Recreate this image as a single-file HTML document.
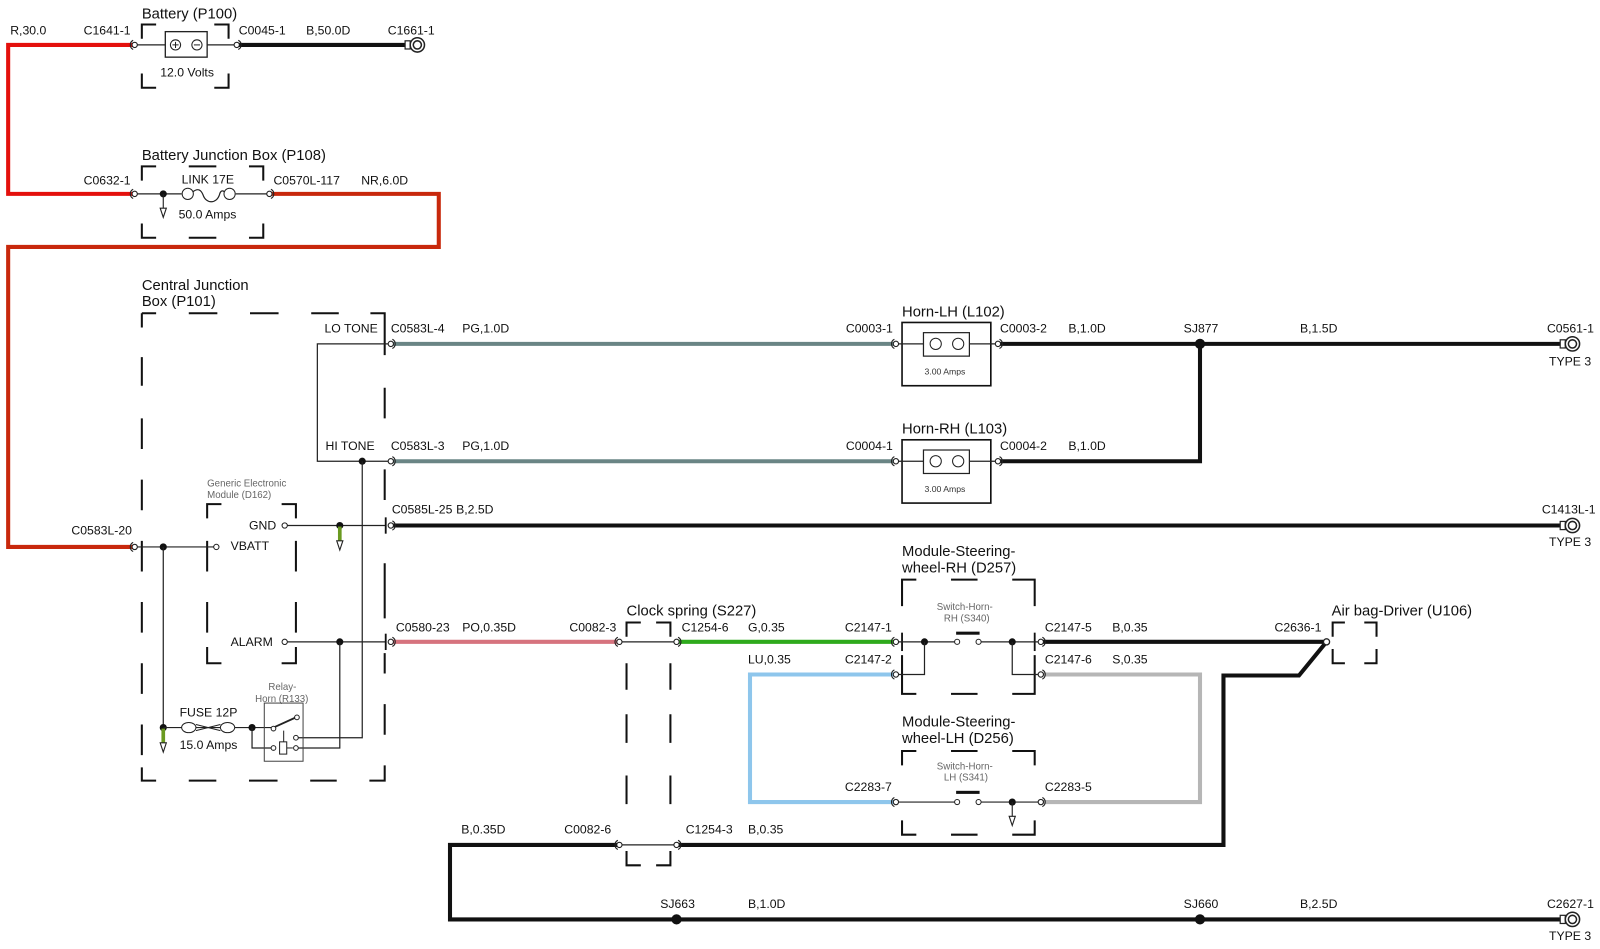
<!DOCTYPE html>
<html><head><meta charset="utf-8">
<style>
html,body{margin:0;padding:0;background:#fff;}
svg{display:block;}
text{font-family:"Liberation Sans",sans-serif;fill:#111;}
.s{font-size:12px;}
.t{font-size:14.5px;}
.g{font-size:9.5px;fill:#666;}
.d{fill:none;stroke:#111;stroke-width:2;}
.th{fill:none;stroke:#222;stroke-width:1.2;}
</style></head><body>
<svg width="1600" height="949" viewBox="0 0 1568 930" xmlns="http://www.w3.org/2000/svg">
<defs>
<g id="cl"><circle cx="0" cy="0" r="2.6" fill="#fff" stroke="#222" stroke-width="1.1"/><path d="M-1.5,-4.5 A5,5 0 0 0 -1.5,4.5" fill="none" stroke="#222" stroke-width="1.1"/></g>
<g id="cr"><circle cx="0" cy="0" r="2.6" fill="#fff" stroke="#222" stroke-width="1.1"/><path d="M1.5,-4.5 A5,5 0 0 1 1.5,4.5" fill="none" stroke="#222" stroke-width="1.1"/></g>
<g id="term"><rect x="-8" y="-4" width="5" height="8" fill="#fff" stroke="#222" stroke-width="1.2"/><circle cx="4" cy="0" r="7" fill="#fff" stroke="#222" stroke-width="1.5"/><circle cx="4" cy="0" r="4" fill="none" stroke="#222" stroke-width="1.5"/></g>
<g id="gnd"><path d="M0,0 V14 M-3,14 L0,23 L3,14 Z" fill="#fff" stroke="#222" stroke-width="1.1"/></g>
<g id="ggnd"><rect x="-1.8" y="0" width="3.6" height="14" fill="#6a9a20"/><path d="M-3,14 L0,23 L3,14 Z" fill="#fff" stroke="#222" stroke-width="1.1"/></g>
</defs>

<!-- wires -->
<polyline points="132,44 8,44 8,190 132,190" fill="none" stroke="#e4100c" stroke-width="4"/>
<polyline points="264,190 430,190 430,242 8,242 8,536 132,536" fill="none" stroke="#c8280c" stroke-width="4"/>
<line x1="232" y1="44" x2="397" y2="44" stroke="#111" stroke-width="4"/>
<line x1="383" y1="337" x2="878" y2="337" stroke="#6a8585" stroke-width="4"/>
<line x1="383" y1="452" x2="878" y2="452" stroke="#6a8585" stroke-width="4"/>
<line x1="978" y1="337" x2="1530" y2="337" stroke="#111" stroke-width="4"/>
<polyline points="978,452 1176,452 1176,337" fill="none" stroke="#111" stroke-width="4"/>
<line x1="383" y1="515" x2="1530" y2="515" stroke="#111" stroke-width="4"/>
<line x1="383" y1="629" x2="607" y2="629" stroke="#d6737e" stroke-width="4"/>
<line x1="663" y1="629" x2="878" y2="629" stroke="#2eaa1c" stroke-width="4"/>
<line x1="1020" y1="629" x2="1300" y2="629" stroke="#111" stroke-width="4"/>
<polyline points="878,661 735,661 735,786 878,786" fill="none" stroke="#8ec6ec" stroke-width="4"/>
<polyline points="1020,661 1176,661 1176,786 1020,786" fill="none" stroke="#b6b6b6" stroke-width="4"/>
<polyline points="1300,629 1273,662 1199,662 1199,828 663,828" fill="none" stroke="#111" stroke-width="4"/>
<polyline points="607,828 441,828 441,901 1530,901" fill="none" stroke="#111" stroke-width="4"/>

<!-- Battery -->
<text class="t" x="139" y="18">Battery (P100)</text>
<text class="s" x="10" y="34">R,30.0</text>
<text class="s" x="82" y="34">C1641-1</text>
<text class="s" x="234" y="34">C0045-1</text>
<text class="s" x="300" y="34">B,50.0D</text>
<text class="s" x="380" y="34">C1661-1</text>
<text class="s" x="157" y="75">12.0 Volts</text>
<path class="d" d="M139,38 V24 H153 M210,24 H224 V38 M139,72 V86 H153 M210,86 H224 V72"/>
<line x1="132" y1="44" x2="232" y2="44" class="th"/>
<rect x="162" y="31" width="41" height="25" fill="#fff" stroke="#222" stroke-width="1.3"/>
<circle cx="172" cy="44" r="5" fill="#fff" stroke="#222"/><path d="M169,44 h6 M172,41 v6" stroke="#222"/>
<circle cx="193" cy="44" r="5" fill="#fff" stroke="#222"/><path d="M190,44 h6" stroke="#222"/>
<use href="#cl" x="132" y="44"/><use href="#cr" x="232" y="44"/>
<use href="#term" x="405" y="44"/>

<!-- BJB -->
<text class="t" x="139" y="157">Battery Junction Box (P108)</text>
<text class="s" x="82" y="181">C0632-1</text>
<text class="s" x="178" y="180">LINK 17E</text>
<text class="s" x="175" y="214">50.0 Amps</text>
<text class="s" x="268" y="181">C0570L-117</text>
<text class="s" x="354" y="181">NR,6.0D</text>
<path class="d" d="M139,177 V163 H153 M185,163 H212 M244,163 H258 V177 M139,219 V233 H153 M185,233 H212 M244,233 H258 V219"/>
<line x1="132" y1="190" x2="178" y2="190" class="th"/>
<line x1="231" y1="190" x2="264" y2="190" class="th"/>
<circle cx="160" cy="190" r="3.5" fill="#111"/><use href="#gnd" x="160" y="190"/>
<circle cx="184" cy="190" r="5.5" fill="#fff" stroke="#222"/><circle cx="225" cy="190" r="5.5" fill="#fff" stroke="#222"/>
<path d="M189,188 C194,184 197,186 199,191 C202,200 212,200 215,191 C216,187 218,186 220,188" fill="none" stroke="#222" stroke-width="1.2"/>
<use href="#cl" x="132" y="190"/><use href="#cr" x="264" y="190"/>

<!-- CJB -->
<text class="t" x="139" y="284">Central Junction</text>
<text class="t" x="139" y="300">Box (P101)</text>
<path class="d" d="M139,307 V321 M139,350 V378 M139,410 V440 M139,470 V500 M139,530 V560 M139,590 V620 M139,650 V680 M139,710 V740 M139,752 V765 H153 M185,765 H212 M244,765 H272 M304,765 H330 M362,765 H377 V750 M377,720 V690 M377,660 V640 M377,606 V552 M377,490 V460 M377,410 V380 M377,348 V307 H363 M332,307 H305 M273,307 H245 M213,307 H185 M153,307 H139"/>
<text class="s" x="318" y="326">LO TONE</text>
<text class="s" x="319" y="441">HI TONE</text>
<polyline points="383,337 311,337 311,452 383,452" class="th"/>
<circle cx="355" cy="452" r="3.5" fill="#111"/>
<polyline points="355,452 355,723 290,723" class="th"/>
<text class="s" x="383" y="326">C0583L-4</text><text class="s" x="453" y="326">PG,1.0D</text>
<text class="s" x="383" y="441">C0583L-3</text><text class="s" x="453" y="441">PG,1.0D</text>
<use href="#cr" x="383" y="337"/><use href="#cr" x="383" y="452"/>

<!-- GEM -->
<text class="g" x="203" y="477">Generic Electronic</text>
<text class="g" x="203" y="488">Module (D162)</text>
<path class="d" d="M203,508 V494 H217 M276,494 H290 V508 M203,530 V560 M290,530 V560 M203,590 V620 M290,590 V620 M203,634 V650 H217 M276,650 H290 V634"/>
<text class="s" x="244" y="519">GND</text>
<text class="s" x="226" y="539">VBATT</text>
<text class="s" x="226" y="633">ALARM</text>
<line x1="281" y1="515" x2="378" y2="515" class="th"/>
<circle cx="279" cy="515" r="2.6" fill="#fff" stroke="#222"/>
<circle cx="333" cy="515" r="3.5" fill="#111"/><use href="#ggnd" x="333" y="516"/>
<line x1="378" y1="507" x2="378" y2="523" stroke="#111" stroke-width="1.8"/>
<use href="#cr" x="383" y="515"/>
<text class="s" x="384" y="503">C0585L-25</text><text class="s" x="447" y="503">B,2.5D</text>
<line x1="132" y1="536" x2="210" y2="536" class="th"/>
<circle cx="212" cy="536" r="2.6" fill="#fff" stroke="#222"/>
<circle cx="160" cy="536" r="3.5" fill="#111"/>
<line x1="160" y1="536" x2="160" y2="713" class="th"/>
<circle cx="160" cy="713" r="3.5" fill="#111"/><use href="#ggnd" x="160" y="714"/>
<text class="s" x="70" y="524">C0583L-20</text>
<use href="#cl" x="132" y="536"/>
<line x1="281" y1="629" x2="378" y2="629" class="th"/>
<circle cx="279" cy="629" r="2.6" fill="#fff" stroke="#222"/>
<circle cx="333" cy="629" r="3.5" fill="#111"/>
<polyline points="333,629 333,733 290,733" class="th"/>
<line x1="378" y1="621" x2="378" y2="637" stroke="#111" stroke-width="1.8"/>
<use href="#cr" x="383" y="629"/>
<text class="s" x="388" y="619">C0580-23</text><text class="s" x="453" y="619">PO,0.35D</text>
<text class="s" x="558" y="619">C0082-3</text>

<!-- Fuse & relay -->
<text class="s" x="176" y="702">FUSE 12P</text>
<text class="s" x="176" y="734">15.0 Amps</text>
<line x1="160" y1="713" x2="268" y2="713" class="th"/>
<ellipse cx="185" cy="713" rx="7" ry="5" fill="#fff" stroke="#222"/><ellipse cx="223" cy="713" rx="7" ry="5" fill="#fff" stroke="#222"/>
<path d="M192,710 L216,716 M192,716 L216,710" stroke="#222"/>
<circle cx="247" cy="713" r="3.5" fill="#111"/>
<polyline points="247,713 247,733 266,733" class="th"/>
<text class="g" x="263" y="676">Relay-</text>
<text class="g" x="250" y="688">Horn (R133)</text>
<rect x="259" y="689" width="38" height="57" fill="none" stroke="#444" stroke-width="1"/>
<line x1="268" y1="713" x2="290" y2="703" stroke="#222" stroke-width="1.8"/>
<circle cx="268" cy="714" r="2.3" fill="#fff" stroke="#222"/><circle cx="291" cy="703" r="2.3" fill="#fff" stroke="#222"/>
<circle cx="268" cy="733" r="2.3" fill="#fff" stroke="#222"/>
<rect x="274" y="727" width="7" height="12" fill="#fff" stroke="#222"/><line x1="278" y1="716" x2="278" y2="727" stroke="#222"/>
<line x1="281" y1="733" x2="287" y2="733" stroke="#222"/>
<circle cx="290" cy="723" r="2.3" fill="#fff" stroke="#222"/><circle cx="290" cy="733" r="2.3" fill="#fff" stroke="#222"/>

<!-- Horns -->
<text class="t" x="884" y="310">Horn-LH (L102)</text>
<text class="t" x="884" y="425">Horn-RH (L103)</text>
<g>
<rect x="884" y="316" width="87" height="62" fill="#fff" stroke="#111" stroke-width="1.6"/>
<line x1="878" y1="337" x2="978" y2="337" class="th"/>
<rect x="905" y="326" width="45" height="23" fill="#fff" stroke="#222" stroke-width="1.2"/>
<circle cx="917" cy="337" r="5.5" fill="#fff" stroke="#222"/><circle cx="939" cy="337" r="5.5" fill="#fff" stroke="#222"/>
<text x="906" y="367" style="font-size:8.5px;fill:#333">3.00 Amps</text>
</g>
<g transform="translate(0,115)">
<rect x="884" y="316" width="87" height="62" fill="#fff" stroke="#111" stroke-width="1.6"/>
<line x1="878" y1="337" x2="978" y2="337" class="th"/>
<rect x="905" y="326" width="45" height="23" fill="#fff" stroke="#222" stroke-width="1.2"/>
<circle cx="917" cy="337" r="5.5" fill="#fff" stroke="#222"/><circle cx="939" cy="337" r="5.5" fill="#fff" stroke="#222"/>
<text x="906" y="367" style="font-size:8.5px;fill:#333">3.00 Amps</text>
</g>
<use href="#cl" x="878" y="337"/><use href="#cr" x="978" y="337"/>
<use href="#cl" x="878" y="452"/><use href="#cr" x="978" y="452"/>
<text class="s" x="829" y="326">C0003-1</text><text class="s" x="980" y="326">C0003-2</text><text class="s" x="1047" y="326">B,1.0D</text>
<text class="s" x="829" y="441">C0004-1</text><text class="s" x="980" y="441">C0004-2</text><text class="s" x="1047" y="441">B,1.0D</text>
<circle cx="1176" cy="337" r="5" fill="#111"/>
<text class="s" x="1160" y="326">SJ877</text><text class="s" x="1274" y="326">B,1.5D</text>
<text class="s" x="1516" y="326">C0561-1</text><text class="s" x="1518" y="358">TYPE 3</text>
<use href="#term" x="1537" y="337"/>
<text class="s" x="1511" y="503">C1413L-1</text><text class="s" x="1518" y="535">TYPE 3</text>
<use href="#term" x="1537" y="515"/>

<!-- Clock spring -->
<text class="t" x="614" y="603">Clock spring (S227)</text>
<path class="d" d="M614,624 V610 H628 M643,610 H657 V624 M614,650 V676 M657,650 V676 M614,700 V728 M657,700 V728 M614,760 V788 M657,760 V788 M614,834 V848 H628 M643,848 H657 V834"/>
<line x1="607" y1="629" x2="663" y2="629" class="th"/>
<line x1="607" y1="828" x2="663" y2="828" class="th"/>
<use href="#cl" x="607" y="629"/><use href="#cr" x="663" y="629"/>
<use href="#cl" x="607" y="828"/><use href="#cr" x="663" y="828"/>
<text class="s" x="668" y="619">C1254-6</text><text class="s" x="733" y="619">G,0.35</text>
<text class="s" x="828" y="619">C2147-1</text>
<text class="s" x="733" y="650">LU,0.35</text><text class="s" x="828" y="650">C2147-2</text>
<text class="s" x="828" y="775">C2283-7</text>
<text class="s" x="452" y="817">B,0.35D</text><text class="s" x="553" y="817">C0082-6</text>
<text class="s" x="672" y="817">C1254-3</text><text class="s" x="733" y="817">B,0.35</text>

<!-- D257 -->
<text class="t" x="884" y="545">Module-Steering-</text>
<text class="t" x="884" y="561">wheel-RH (D257)</text>
<path class="d" d="M884,594 V568 H898 M932,568 H958 M992,568 H1014 V594 M884,642 V680 H898 M932,680 H958 M992,680 H1014 V642"/>
<line x1="884" y1="620" x2="884" y2="638" stroke="#111" stroke-width="1.8"/>
<line x1="1014" y1="620" x2="1014" y2="638" stroke="#111" stroke-width="1.8"/>
<text class="g" x="918" y="598">Switch-Horn-</text><text class="g" x="925" y="609">RH (S340)</text>
<line x1="878" y1="629" x2="936" y2="629" class="th"/><line x1="961" y1="629" x2="1020" y2="629" class="th"/>
<circle cx="938" cy="629" r="2.5" fill="#fff" stroke="#222"/><circle cx="959" cy="629" r="2.5" fill="#fff" stroke="#222"/>
<rect x="937" y="619" width="23" height="3" fill="#111"/>
<circle cx="906" cy="629" r="3.5" fill="#111"/><circle cx="992" cy="629" r="3.5" fill="#111"/>
<polyline points="878,661 906,661 906,629" class="th"/>
<polyline points="992,629 992,661 1020,661" class="th"/>
<use href="#cl" x="878" y="629"/><use href="#cr" x="1020" y="629"/>
<use href="#cl" x="878" y="661"/><use href="#cr" x="1020" y="661"/>
<text class="s" x="1024" y="619">C2147-5</text><text class="s" x="1090" y="619">B,0.35</text>
<text class="s" x="1024" y="650">C2147-6</text><text class="s" x="1090" y="650">S,0.35</text>

<!-- D256 -->
<text class="t" x="884" y="712">Module-Steering-</text>
<text class="t" x="884" y="728">wheel-LH (D256)</text>
<path class="d" d="M884,750 V736 H898 M932,736 H958 M992,736 H1014 V750 M884,804 V818 H898 M932,818 H958 M992,818 H1014 V804"/>
<text class="g" x="918" y="754">Switch-Horn-</text><text class="g" x="925" y="765">LH (S341)</text>
<line x1="878" y1="786" x2="936" y2="786" class="th"/><line x1="961" y1="786" x2="1020" y2="786" class="th"/>
<circle cx="938" cy="786" r="2.5" fill="#fff" stroke="#222"/><circle cx="959" cy="786" r="2.5" fill="#fff" stroke="#222"/>
<rect x="937" y="775" width="23" height="3" fill="#111"/>
<circle cx="992" cy="786" r="3.5" fill="#111"/><use href="#gnd" x="992" y="786"/>
<use href="#cl" x="878" y="786"/><use href="#cr" x="1020" y="786"/>
<text class="s" x="1024" y="775">C2283-5</text>

<!-- Airbag -->
<text class="t" x="1305" y="603">Air bag-Driver (U106)</text>
<path class="d" d="M1306,624 V610 H1318 M1337,610 H1349 V624 M1306,636 V650 H1318 M1337,650 H1349 V636"/>
<circle cx="1300" cy="629" r="3" fill="#fff" stroke="#222" stroke-width="1.3"/>
<text class="s" x="1249" y="619">C2636-1</text>

<!-- bottom -->
<circle cx="663" cy="901" r="5" fill="#111"/><circle cx="1176" cy="901" r="5" fill="#111"/>
<text class="s" x="647" y="890">SJ663</text><text class="s" x="733" y="890">B,1.0D</text>
<text class="s" x="1160" y="890">SJ660</text><text class="s" x="1274" y="890">B,2.5D</text>
<text class="s" x="1516" y="890">C2627-1</text><text class="s" x="1518" y="921">TYPE 3</text>
<use href="#term" x="1537" y="901"/>
</svg>
</body></html>
